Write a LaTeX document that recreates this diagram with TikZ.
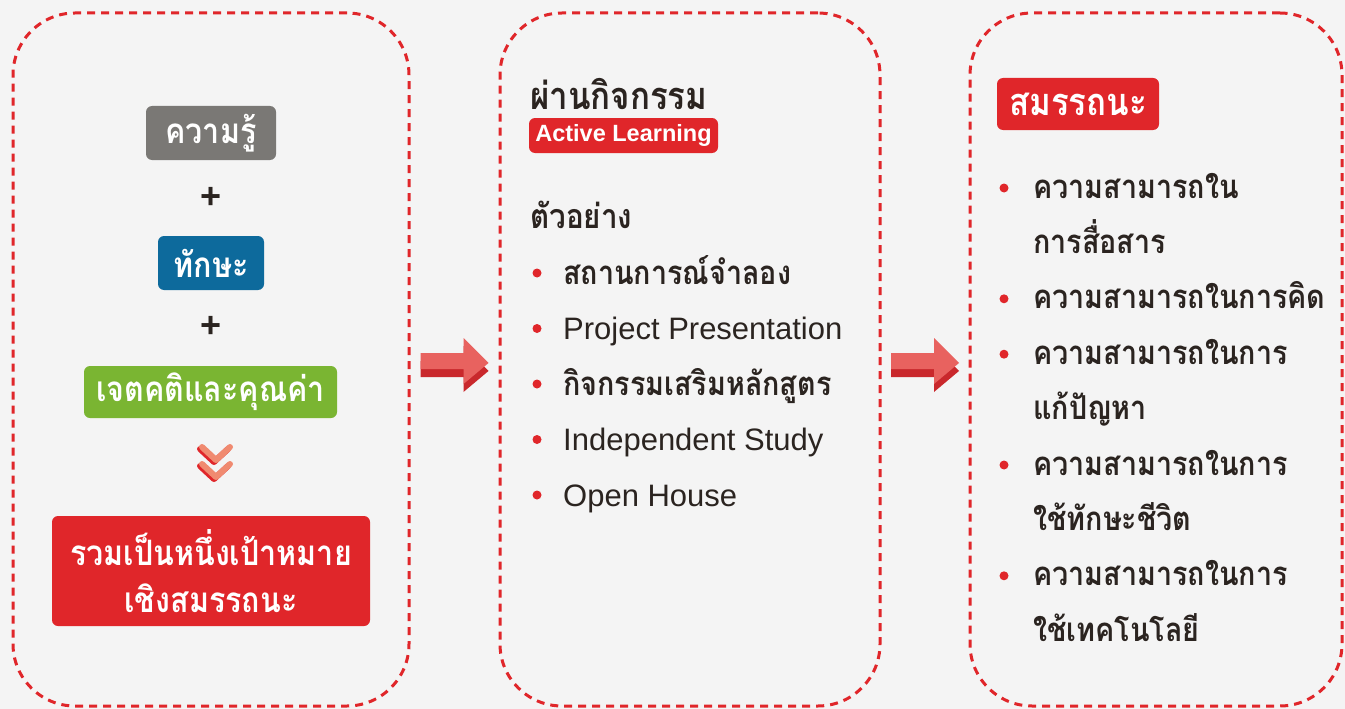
\documentclass[tikz,border=0pt]{standalone}
\usepackage{fontspec}
\setmainfont{Liberation Sans}
\newfontfamily\thaifont[Script=Thai,FakeStretch=0.87]{Loma}
\usetikzlibrary{calc,positioning}
\definecolor{bgcol}{HTML}{F4F4F4}
\definecolor{mainred}{HTML}{E0262A}
\definecolor{tagred}{HTML}{E0262A}
\definecolor{taggray}{HTML}{7A7875}
\definecolor{tagblue}{HTML}{0D6A9C}
\definecolor{taggreen}{HTML}{7AB532}
\definecolor{salmon}{HTML}{F08A70}
\definecolor{arrowfront}{HTML}{E8625F}
\definecolor{arrowdark}{HTML}{C9282C}
\definecolor{ink}{HTML}{2B2420}
\newcommand{\thaibody}{\thaifont\bfseries\fontsize{33}{40}\selectfont}
\newcommand{\latinbody}{\fontsize{31}{37}\selectfont}
\tikzset{
    %Define style for dashed panels
    panel/.style={
           rectangle,
           rounded corners=62pt,
           draw=mainred, line width=3pt,
           dash pattern=on 8pt off 6pt,
           inner sep=0pt,
           minimum height=693pt,
           minimum width=#1},
    %Define style for coloured labels
    tag/.style={
           rectangle,
           rounded corners=6pt,
           fill=#1,
           text=white,
           inner sep=0pt,
           font=\thaifont\bfseries\fontsize{35}{47}\selectfont,
           align=center},
    % Define style for list lines
    item/.style={
           anchor=base west,
           inner sep=0pt,
           text=ink},
    dot/.style={
           circle, fill=mainred, inner sep=0pt, minimum size=9pt},
    plus/.style={
           text=ink, inner sep=0pt,
           font=\bfseries\fontsize{36}{36}\selectfont},
    % Define block arrow
    bigarrow/.pic={
           \fill[arrowdark] (-34,-1) -- (9,-1) -- (9,-16) -- (34,9)
                 -- (9,30) -- (9,15) -- (-34,15) -- cycle;
           \fill[arrowfront] (-34,-9) -- (9,-9) -- (9,-24) -- (34,1)
                 -- (9,22) -- (9,7) -- (-34,7) -- cycle;},
    chev/.style={
           line width=6pt, line cap=round, line join=round}
}
\begin{document}
\begin{tikzpicture}[x=1pt,y=-1pt]
\fill[bgcol] (0,0) rectangle (1345,709);
\useasboundingbox (0,0) rectangle (1345,709);

 %panels
\node[panel=396pt](left) at (211,359.5){};
\node[panel=380pt](mid) at (690,359.5){};
\node[panel=372pt](right) at (1156,359.5){};

 %left panel
\node[tag=taggray, minimum width=130pt, minimum height=54pt](know) at (211,133){ความรู้};
\node[plus](plus1) at (211,198){+};
\node[tag=tagblue, minimum width=106pt, minimum height=54pt](skill) at (211,263){ทักษะ};
\node[plus](plus2) at (211,327){+};
\node[tag=taggreen, minimum width=253pt, minimum height=52pt](value) at (210.5,392){เจตคติและคุณค่า};
\node[tag=tagred, minimum width=318pt, minimum height=110pt](goal) at (211,571){รวมเป็นหนึ่งเป้าหมาย\\เชิงสมรรถนะ};
\foreach \dy in {0,17}{
  \draw[chev, mainred] (200,449+\dy) -- (214,462+\dy) -- (228,449+\dy);
  \draw[chev, salmon] (202,447+\dy) -- (216,460+\dy) -- (230,447+\dy);
}

 %middle panel
\node[item, text depth=0pt, font=\thaifont\bfseries\fontsize{38}{44}\selectfont](acts) at (530,110){ผ่านกิจกรรม};
\node[tag=tagred, minimum width=189pt, minimum height=35pt,
      font=\bfseries\fontsize{23.5}{28}\selectfont](active) at (623.5,135.5){Active Learning};
\node[item, font=\thaifont\bfseries\fontsize{34}{40}\selectfont](eg) at (530,228){ตัวอย่าง};
\foreach \i/\txt/\f in {1/สถานการณ์จำลอง/\thaibody, 2/Project Presentation/\latinbody,
    3/กิจกรรมเสริมหลักสูตร/\thaibody, 4/Independent Study/\latinbody, 5/Open House/\latinbody}{
  \node[item](m\i) at (563,{228.5+55.5*\i}){\f\txt};
  \node[dot] at ($(m\i.base west)+(-26,-11)$){};
}

 %right panel
\node[tag=tagred, minimum width=162pt, minimum height=52pt,
      font=\thaifont\bfseries\fontsize{38}{44}\selectfont](comp) at (1078,104){สมรรถนะ};
\foreach \i/\txt/\b in {1/ความสามารถใน/1, 2/การสื่อสาร/0, 3/ความสามารถในการคิด/1,
    4/ความสามารถในการ/1, 5/แก้ปัญหา/0, 6/ความสามารถในการ/1, 7/ใช้ทักษะชีวิต/0,
    8/ความสามารถในการ/1, 9/ใช้เทคโนโลยี/0}{
  \node[item, font=\thaibody](r\i) at (1033,{142.6+55.4*\i}){\txt};
  \ifnum\b=1 \node[dot] at ($(r\i.base west)+(-29,-10)$){}; \fi
}

 %arrows
\pic at ($(left.east)!.5!(mid.west)+(0,2.5)$) {bigarrow};
\pic at ($(mid.east)!.5!(right.west)+(0,2.5)$) {bigarrow};

\end{tikzpicture}
\end{document}
